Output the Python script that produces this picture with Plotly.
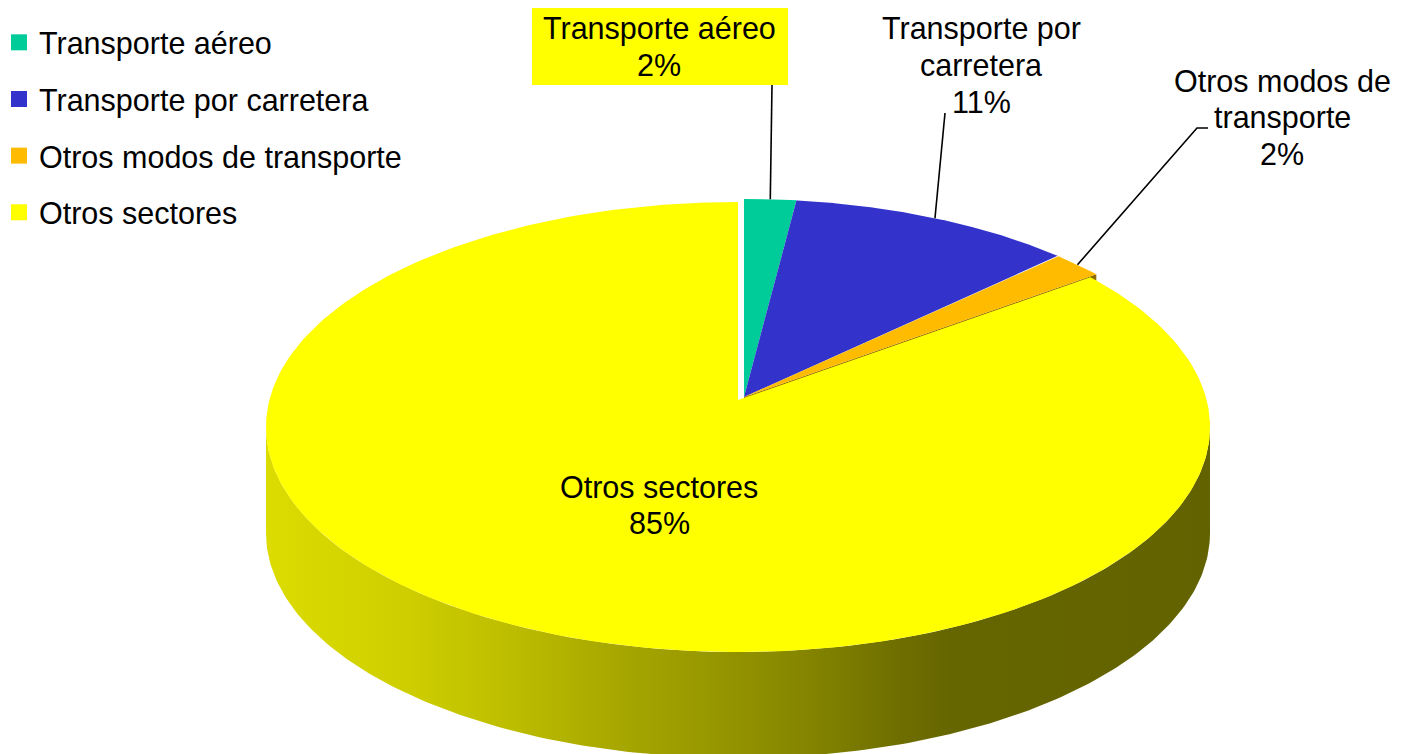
import numpy as np
import plotly.graph_objects as go

# ---------------- data ----------------
categories = ["Transporte aéreo", "Transporte por carretera",
              "Otros modos de transporte", "Otros sectores"]
values = [2.0, 10.9, 2.0, 85.1]
label_lines = [["Transporte aéreo"], ["Transporte por", "carretera"],
               ["Otros modos de", "transporte"], ["Otros sectores"]]

# ---------------- style ----------------
colors = ["#00CC99", "#3333CC", "#FFBB00", "#FFFF00"]
FONT = "Liberation Sans, Arial, sans-serif"
FS = 30.5
W, H = 1404, 754
OFF = 8                    # page body margin compensation
CX, CY = 738, 400          # pie centre on screen
A, B, K = 468.6, 221.8, 0.12  # perspective ellipse parameters
DEPTH = 106
EXPLODE = [(6, -3), (6, -3), (6, -3), (0, 0)]
ORANGE_FACE = "#8C6A00"
SIDE_SCALE = [[0.0, "#DCDC00"], [0.142, "#CFCF00"], [0.248, "#BFBF00"],
              [0.354, "#AAAA00"], [0.46, "#999900"], [0.566, "#868600"],
              [0.672, "#6E6E00"], [0.725, "#666600"], [1.0, "#626200"]]
LABEL_X = [659, 981, 1282, 659]
LABEL_Y0 = [28.5, 28.5, 81, 486.5]   # centre of first text line
LINE_H = 36.5
BOX = (532, 6, 788, 85)                # yellow box behind first label
LEADER_START = [[(772, 85)], [(945, 113)], [(1208, 128), (1197, 128)], None]


def proj(theta, r=1.0, dx=0.0, dy=0.0):
    s, c = np.sin(theta), np.cos(theta)
    w = 1 + K * r * c
    return CX + dx + A * r * s / w, CY + dy - B * r * c / w


total = sum(values)
cum = np.concatenate([[0], np.cumsum(values)]) / total * 2 * np.pi

fig = go.Figure()

# side of the big slice (visible front part)
t1 = np.arccos(-K)
t2 = 2 * np.pi - t1
ts = np.linspace(max(t1, cum[3]), min(t2, cum[4]), 200)
xt, yt = proj(ts, dx=EXPLODE[3][0], dy=EXPLODE[3][1])
sx = np.concatenate([xt, xt[::-1]])
sy = np.concatenate([yt, yt[::-1] + DEPTH])
fig.add_trace(go.Scatter(
    x=sx, y=sy, mode="lines", fill="toself", line=dict(width=0),
    fillgradient=dict(type="horizontal", colorscale=SIDE_SCALE,
                      start=CX - 472, stop=CX + 472),
    hoverinfo="skip", showlegend=False))

# radial cut face of slice 3 (visible through the explode gap)
dx, dy = EXPLODE[2]
ax, ay = proj(0, r=0, dx=dx, dy=dy)
rx, ry = proj(cum[3], dx=dx, dy=dy)
fig.add_trace(go.Scatter(
    x=[ax, rx, rx, ax, ax], y=[ay, ry, ry + DEPTH, ay + DEPTH, ay],
    mode="lines", fill="toself", fillcolor=ORANGE_FACE, line=dict(width=0),
    hoverinfo="skip", showlegend=False))

# top faces: draw big slice first then small ones
for i in [3, 0, 1, 2]:
    dx, dy = EXPLODE[i]
    th = np.linspace(cum[i], cum[i + 1], 300)
    px, py = proj(th, dx=dx, dy=dy)
    ax, ay = proj(0, r=0, dx=dx, dy=dy)
    fig.add_trace(go.Scatter(
        x=np.concatenate([[ax], px, [ax]]), y=np.concatenate([[ay], py, [ay]]),
        mode="lines", fill="toself", fillcolor=colors[i], line=dict(width=0),
        hoverinfo="skip", showlegend=False))

# leader lines
for i, start in enumerate(LEADER_START):
    if start is None:
        continue
    mid = (cum[i] + cum[i + 1]) / 2
    ex, ey = proj(mid, dx=EXPLODE[i][0], dy=EXPLODE[i][1])
    xs = [p[0] for p in start] + [ex]
    ys = [p[1] for p in start] + [ey]
    fig.add_trace(go.Scatter(x=xs, y=ys, mode="lines",
                             line=dict(color="black", width=1.6),
                             hoverinfo="skip", showlegend=False))

# legend entries
for i, cat in enumerate(categories):
    fig.add_trace(go.Scatter(
        x=[None], y=[None], mode="markers", name=cat, legendgroup=cat,
        marker=dict(symbol="square", size=16, color=colors[i])))

# yellow box behind the first data label
fig.add_shape(type="rect", xref="x", yref="y", x0=BOX[0], y0=BOX[1],
              x1=BOX[2], y1=BOX[3], fillcolor="#FFFF00", line=dict(width=0),
              layer="above")

# data labels (name lines + percentage)
for i in range(4):
    pct = f"{round(values[i] / total * 100)}%"
    lines = label_lines[i] + [pct]
    for j, txt in enumerate(lines):
        fig.add_annotation(x=LABEL_X[i], y=LABEL_Y0[i] + j * LINE_H,
                           xref="x", yref="y", text=txt, showarrow=False,
                           font=dict(family=FONT, size=FS, color="black"),
                           xanchor="center", yanchor="middle")

fig.update_layout(
    width=W, height=H, margin=dict(l=0, r=0, t=0, b=0, autoexpand=False),
    paper_bgcolor="white", plot_bgcolor="white",
    xaxis=dict(range=[OFF, W + OFF], visible=False, fixedrange=True),
    yaxis=dict(range=[H + OFF, OFF], visible=False, fixedrange=True),
    legend=dict(x=-9 / W, y=1 - 8 / H, xanchor="left", yanchor="top",
                font=dict(family=FONT, size=FS, color="black"),
                tracegroupgap=14, bgcolor="rgba(0,0,0,0)"),
    showlegend=True,
)

fig.write_html("out.html")
